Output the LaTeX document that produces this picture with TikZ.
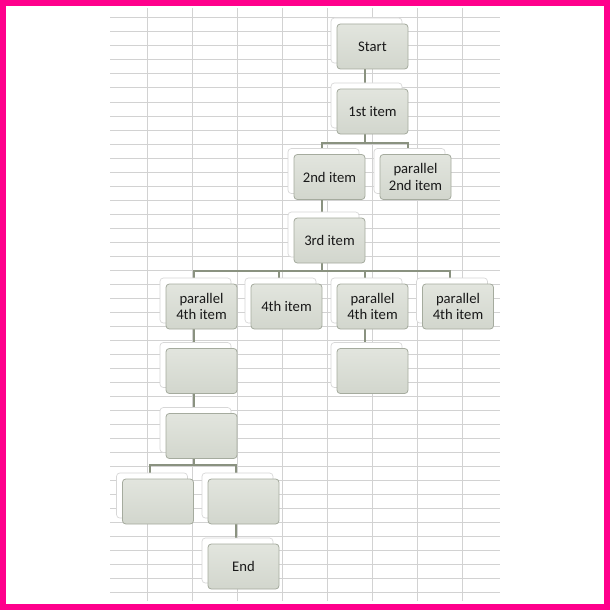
\documentclass[tikz,border=0pt]{standalone}
\usepackage{fontspec}
\setmainfont{Carlito}
\usetikzlibrary{shadows}
\pgfdeclarelayer{bg}
\pgfsetlayers{bg,main}
\definecolor{pinkb}{RGB}{255,0,140}
\definecolor{gridc}{RGB}{210,210,210}
\definecolor{boxtop}{RGB}{226,229,222}
\definecolor{boxbot}{RGB}{210,214,205}
\definecolor{boxline}{RGB}{165,171,158}
\definecolor{connc}{RGB}{138,146,128}
\definecolor{backc}{RGB}{215,215,215}
\definecolor{txt}{RGB}{25,25,25}
\begin{document}
\begin{tikzpicture}[x=0.75pt,y=-0.75pt,
  card/.style={rectangle, rounded corners=2.5pt, minimum width=53.25pt, minimum height=33.75pt,
    inner sep=1pt, align=center, top color=boxtop, bottom color=boxbot, draw=boxline, line width=0.6pt,
    font=\fontsize{11}{12.2}\selectfont, text=txt,
    copy shadow={shadow xshift=-4.5pt, shadow yshift=4.5pt, fill=white, draw=backc, line width=0.5pt}},
  link/.style={draw=connc, line width=1.5pt},
  gridline/.style={draw=gridc, line width=0.75pt}]
\useasboundingbox (0,0) rectangle (610,610);
% nodes
\node[card] (s)  at (372.5,46.5) {Start};
\node[card] (i1) at (372.5,111.5) {1st item};
\node[card] (i2) at (329.5,177) {2nd item};
\node[card] (p2) at (415.5,177) {parallel\\2nd item};
\node[card] (i3) at (329.5,240.5) {3rd item};
\node[card] (a)  at (201.5,306.5) {parallel\\4th item};
\node[card] (b)  at (286.5,306.5) {4th item};
\node[card] (c)  at (372.5,306.5) {parallel\\4th item};
\node[card] (d)  at (458,306.5) {parallel\\4th item};
\node[card] (a5) at (201.5,371) {};
\node[card] (c5) at (372.5,371) {};
\node[card] (a6) at (201.5,436) {};
\node[card] (l7) at (158,501.5) {};
\node[card] (r7) at (243.5,501.5) {};
\node[card] (e)  at (243.5,566.5) {End};
\begin{pgfonlayer}{bg}
  \fill[white] (0,0) rectangle (610,610);
  \foreach \k in {0,...,41} \draw[gridline] (110,18+14*\k) -- (500,18+14*\k);
  \foreach \k in {0,...,7} \draw[gridline] (147.5+45*\k,8) -- (147.5+45*\k,601);
  \draw[link] ([xshift=-6pt]s.south) -- ([xshift=-6pt]i1.north);
  \draw[link] ([xshift=-6pt]i1.south) -- ++(0,9) coordinate (j1);
  \draw[link] ([xshift=-6pt]i2.north) |- (j1) -| ([xshift=-6pt]p2.north);
  \draw[link] ([xshift=-6pt]i2.south) -- ([xshift=-6pt]i3.north);
  \draw[link] ([xshift=-6pt]i3.south) -- ++(0,8) coordinate (j3);
  \draw[link] ([xshift=-6pt]a.north) |- (j3) -| ([xshift=-6pt]d.north);
  \draw[link] ([xshift=-6pt]b.north) -- ([xshift=-6pt]b.north |- j3);
  \draw[link] ([xshift=-6pt]c.north) -- ([xshift=-6pt]c.north |- j3);
  \draw[link] ([xshift=-6pt]a.south) -- ([xshift=-6pt]a5.north);
  \draw[link] ([xshift=-6pt]c.south) -- ([xshift=-6pt]c5.north);
  \draw[link] ([xshift=-6pt]a5.south) -- ([xshift=-6pt]a6.north);
  \draw[link] ([xshift=-6pt]a6.south) -- ++(0,6) coordinate (j6);
  \draw[link] ([xshift=-6pt]l7.north) |- (j6) -| ([xshift=-6pt]r7.north);
  \draw[link] ([xshift=-6pt]r7.south) -- ([xshift=-6pt]e.north);
\end{pgfonlayer}
\draw[pinkb, line width=4.2pt] (2.8,2.8) rectangle (607.2,607.2);
\end{tikzpicture}
\end{document}
